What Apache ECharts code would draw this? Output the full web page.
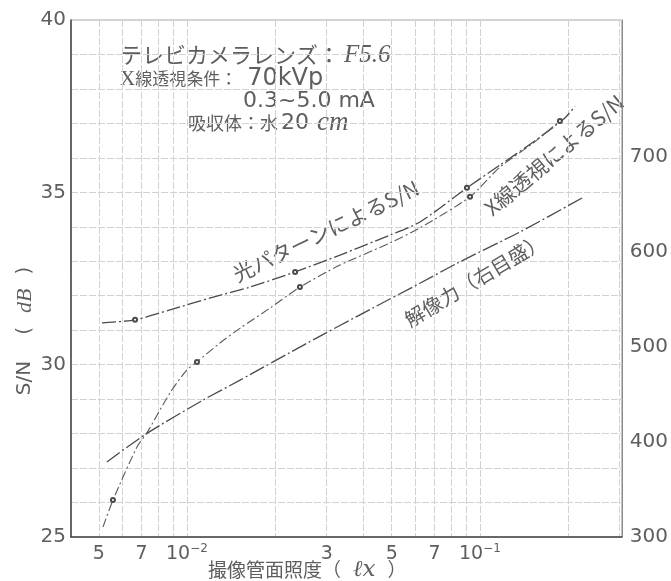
<!DOCTYPE html>
<html><head><meta charset="utf-8">
<script src="https://cdn.jsdelivr.net/npm/echarts@6/dist/echarts.min.js"></script>
<style>html,body{margin:0;padding:0;background:#fff}#c{width:671px;height:581px}</style>
</head><body><div id="c"></div><script>
// ---- data ----
const lightLux = [0.00513, 0.00665, 0.00875, 0.0123, 0.0164, 0.0234, 0.0333, 0.0493, 0.0624, 0.0903, 0.117, 0.152, 0.195, 0.211];
const lightSN  = [31.21, 31.30, 31.59, 31.96, 32.25, 32.69, 33.18, 33.76, 34.14, 35.13, 35.79, 36.46, 37.16, 37.50];
const lightMarks = [0.00665, 0.0234, 0.0903];

const xrayLux = [0.00517, 0.00559, 0.00675, 0.0073, 0.00875, 0.0100, 0.01082, 0.01296, 0.0152, 0.0192, 0.0243, 0.0333, 0.0493, 0.0624, 0.0925, 0.117, 0.152, 0.1875];
const xraySN  = [25.29, 26.07, 27.61, 28.02, 29.18, 29.85, 30.08, 30.63, 31.06, 31.64, 32.25, 32.89, 33.53, 33.97, 34.87, 35.73, 36.43, 37.07];
const xrayMarks = [0.00559, 0.01082, 0.0243, 0.0925, 0.1875];

const resLux = [0.00533, 0.0073, 0.01134, 0.01517, 0.0257, 0.0431, 0.0624, 0.0835, 0.137, 0.224];
const resVal = [379, 409, 444, 465, 504, 541, 567, 588, 621, 657];

const xTickValues = [0.005, 0.007, 0.01, 0.03, 0.05, 0.07, 0.1];
const xTickLabels = ['5', '7', '10^-2', '3', '5', '7', '10^-1'];
const xGridValues = [0.005, 0.006, 0.007, 0.008, 0.009, 0.01, 0.02, 0.03, 0.04, 0.05, 0.06, 0.07, 0.08, 0.09, 0.1, 0.2, 0.3];
const rightTickValues = [300, 400, 500, 600, 700];

const seriesNames = ['光パターンによるS/N', 'X線透視によるS/N', '解像力（右目盛）'];

// ---- build ----
function build(xs, ys, marks) {
  return xs.map((x, i) => {
    const it = { value: [x, ys[i]] };
    if (marks && marks.indexOf(x) >= 0) { it.symbol = 'emptyCircle'; it.symbolSize = 4; }
    return it;
  });
}
const TXT = '#5e5e5e';
const LINE = '#4a4a4a';
const GRIDC = '#d2d2d2';
const numFont = '"DejaVu Sans", "Noto Sans", sans-serif';
const cjkFont = '"Noto Sans CJK JP", "Noto Sans", sans-serif';

const chart = echarts.init(document.getElementById('c'), null, { renderer: 'canvas' });
chart.setOption({
  animation: false,
  backgroundColor: '#fff',
  grid: { left: 71, right: 49, top: 20, bottom: 44, show: true, borderColor: '#a8a8a8', borderWidth: 1 },
  xAxis: {
    type: 'log', min: 0.00402, max: 0.305,
    axisLine: { show: true, lineStyle: { color: '#444', width: 1.5 } },
    axisTick: { show: false, customValues: xGridValues },
    splitLine: { show: true, lineStyle: { color: GRIDC, width: 1, type: [7, 2] } },
    axisLabel: {
      customValues: xTickValues, margin: 6, color: TXT, fontFamily: numFont, fontSize: 19,
      formatter: function (v) {
        let idx = 0, best = 1e9;
        xTickValues.forEach((t, i) => { const d = Math.abs(Math.log10(v) - Math.log10(t)); if (d < best) { best = d; idx = i; } });
        const lab = xTickLabels[idx];
        if (lab.indexOf('^') >= 0) { const p = lab.split('^'); return '{m|' + p[0] + '}{s|' + p[1].replace('-', '−') + '}'; }
        return '{m|' + lab + '}';
      },
      rich: {
        m: { fontSize: 19, fontFamily: numFont, color: TXT, lineHeight: 22 },
        s: { fontSize: 12, fontFamily: numFont, color: TXT, verticalAlign: 'top', lineHeight: 22, padding: [0, 0, 8, 0] }
      }
    }
  },
  yAxis: [
    {
      type: 'value', min: 25, max: 40, interval: 5, position: 'left',
      axisLine: { show: true, lineStyle: { color: '#444', width: 1.5 } },
      axisTick: { show: false },
      minorTick: { show: false, splitNumber: 5 },
      splitLine: { show: true, lineStyle: { color: GRIDC, width: 1, type: [7, 2] } },
      minorSplitLine: { show: true, lineStyle: { color: GRIDC, width: 1, type: [7, 2] } },
      axisLabel: { margin: 5, color: TXT, fontFamily: numFont, fontSize: 20 }
    },
    {
      type: 'value', min: 300, max: 844, interval: 100, position: 'right',
      axisLine: { show: true, lineStyle: { color: '#8a8a8a', width: 1 } },
      axisTick: { show: false },
      splitLine: { show: false },
      axisLabel: {
        margin: 8, color: TXT, fontFamily: numFont, fontSize: 20,
        formatter: v => rightTickValues.indexOf(v) >= 0 ? String(v) : ''
      }
    }
  ],
  series: [
    {
      name: seriesNames[0], type: 'line', yAxisIndex: 0, smooth: 0.25, symbol: 'none', showAllSymbol: true,
      itemStyle: { color: LINE, borderColor: LINE, borderWidth: 1 },
      lineStyle: { color: LINE, width: 1.3, type: [14, 3, 2, 3] },
      data: build(lightLux, lightSN, lightMarks), z: 3
    },
    {
      name: seriesNames[1], type: 'line', yAxisIndex: 0, smooth: 0.25, symbol: 'none', showAllSymbol: true,
      itemStyle: { color: LINE, borderColor: LINE, borderWidth: 1 },
      lineStyle: { color: '#5a5a5a', width: 1.1, type: [9, 3, 2, 3] },
      data: build(xrayLux, xraySN, xrayMarks), z: 3
    },
    {
      name: seriesNames[2], type: 'line', yAxisIndex: 1, smooth: 0.25, symbol: 'none',
      lineStyle: { color: LINE, width: 1.3, type: [16, 3, 2, 3] },
      data: build(resLux, resVal, null), z: 3
    }
  ],
  graphic: [
    { type: 'text', x: 120, y: 55, style: { text: '{k|テレビカメラレンズ：}{f|F5.6}', verticalAlign: 'middle', align: 'left', fill: TXT,
      rich: { k: { fontFamily: cjkFont, fontSize: 22, fill: TXT }, f: { fontFamily: '"Liberation Serif", serif', fontStyle: 'italic', fontSize: 25, fill: TXT, padding: [0, 0, 0, 4] } } } },
    { type: 'text', x: 120, y: 79, style: { text: '{x|X}{k|線透視条件：}{n|70kVp}', verticalAlign: 'middle', align: 'left', fill: TXT,
      rich: { x: { fontFamily: '"Liberation Serif", serif', fontSize: 21, fill: TXT }, k: { fontFamily: cjkFont, fontSize: 17, fill: TXT }, n: { fontFamily: numFont, fontSize: 24, fill: TXT, padding: [0, 0, 0, 10] } } } },
    { type: 'text', x: 243, y: 101, style: { text: '0.3~5.0 mA', verticalAlign: 'middle', align: 'left', fill: TXT, fontFamily: numFont, fontSize: 22 } },
    { type: 'text', x: 188, y: 123, style: { text: '{k|吸収体：水}{n|20}{i|cm}', verticalAlign: 'middle', align: 'left', fill: TXT,
      rich: { k: { fontFamily: cjkFont, fontSize: 18, fill: TXT }, n: { fontFamily: numFont, fontSize: 22, fill: TXT, padding: [0, 0, 0, 3] }, i: { fontFamily: '"Liberation Serif", serif', fontStyle: 'italic', fontSize: 27, fill: TXT, padding: [0, 0, 0, 8] } } } },
    { type: 'text', x: 25, y: 327, rotation: Math.PI / 2, style: { text: '{n|S/N}{p|(}{i|dB}{p|)}', align: 'center', verticalAlign: 'middle', fill: TXT,
      rich: { n: { fontFamily: numFont, fontSize: 20, fill: TXT, padding: [0, 18, 0, 0] }, p: { fontFamily: numFont, fontSize: 20, fill: TXT, padding: [0, 8] }, i: { fontFamily: '"Liberation Serif", serif', fontStyle: 'italic', fontSize: 22, fill: TXT, padding: [0, 6] } } } },
    { type: 'text', x: 208, y: 570, style: { text: '{c|撮像管面照度（}{i|ℓx}{c|）}', align: 'left', verticalAlign: 'middle', fill: TXT,
      rich: { c: { fontFamily: cjkFont, fontSize: 19, fill: TXT }, i: { fontFamily: '"DejaVu Serif", serif', fontStyle: 'italic', fontSize: 23, fill: TXT, padding: [0, 12] } } } },
    { type: 'text', x: 326, y: 231, rotation: 26 * Math.PI / 180, style: { text: seriesNames[0], align: 'center', verticalAlign: 'middle', fill: TXT, fontFamily: cjkFont, fontSize: 21 } },
    { type: 'text', x: 554, y: 155, rotation: 40 * Math.PI / 180, style: { text: seriesNames[1], align: 'center', verticalAlign: 'middle', fill: TXT, fontFamily: cjkFont, fontSize: 21 } },
    { type: 'text', x: 475, y: 280, rotation: 31 * Math.PI / 180, style: { text: seriesNames[2], align: 'center', verticalAlign: 'middle', fill: TXT, fontFamily: cjkFont, fontSize: 20 } }
  ]
});
</script></body></html>
